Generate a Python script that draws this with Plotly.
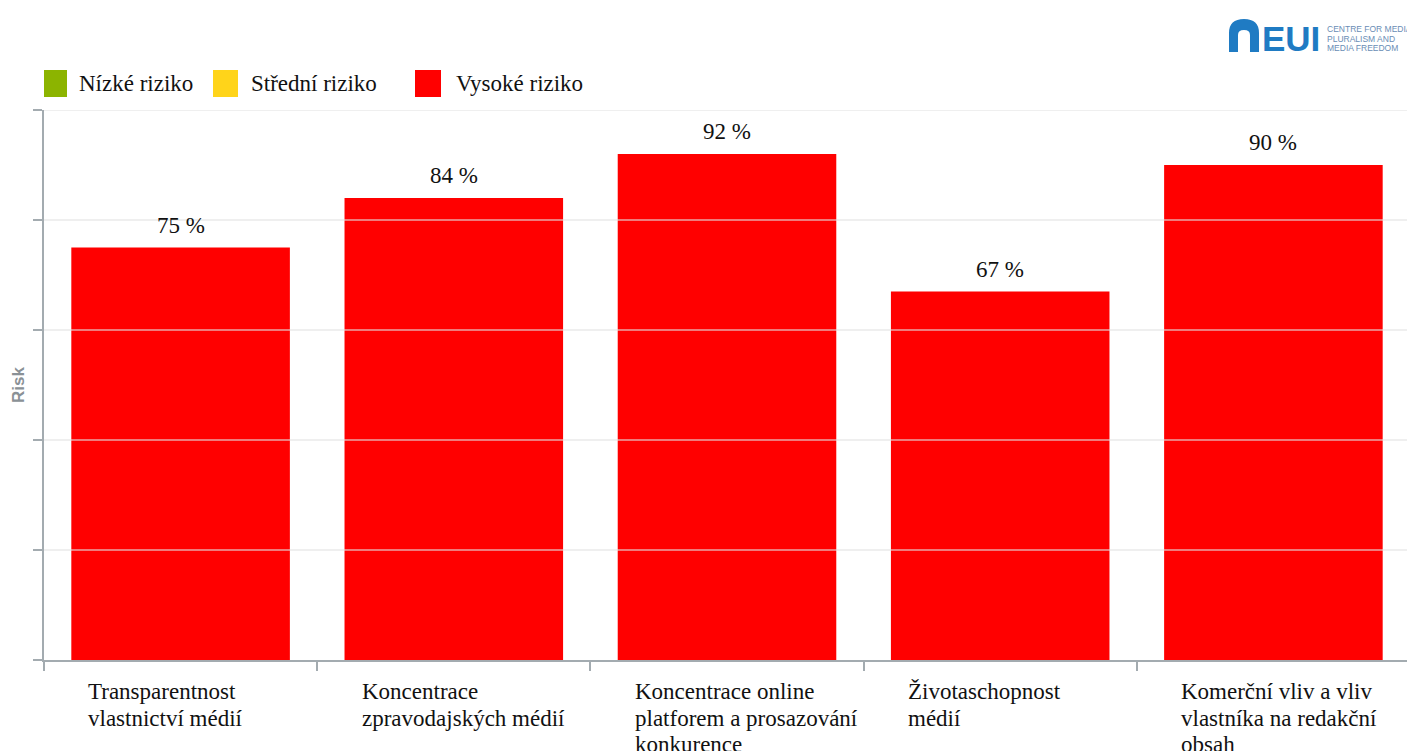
import plotly.graph_objects as go

categories = [
    "Transparentnost<br>vlastnictví médií",
    "Koncentrace<br>zpravodajských médií",
    "Koncentrace online<br>platforem a prosazování<br>konkurence",
    "Životaschopnost<br>médií",
    "Komerční vliv a vliv<br>vlastníka na redakční<br>obsah",
]
risk_values = [75, 84, 92, 67, 90]
y_ticks = [0, 20, 40, 60, 80, 100]
legend_labels = ["Nízké riziko", "Střední riziko", "Vysoké riziko"]
legend_colors = ["#8cb400", "#ffd41a", "#ff0000"]

W, H = 1407, 751
ML, MR, MT, MB = 44, 0, 110, 91
PW, PH = W - ML - MR, H - MT - MB

def px(x):
    return (x - ML) / PW

def py(y):
    return (H - MB - y) / PH

serif = "Liberation Serif, Times New Roman, serif"
cat_ids = list(range(len(categories)))

fig = go.Figure()
fig.add_trace(go.Bar(
    x=cat_ids, y=risk_values, marker_color=legend_colors[2],
    marker_line_width=0, width=0.8, showlegend=False, hoverinfo="y",
))

# gridlines drawn above bars (semi-transparent)
for t in y_ticks[1:]:
    fig.add_shape(type="line", xref="paper", yref="y", x0=0, x1=1, y0=t, y1=t,
                  line=dict(color="rgba(225,225,225,0.55)", width=2), layer="above")

# value labels
for i, v in zip(cat_ids, risk_values):
    fig.add_annotation(x=i, y=v, xref="x", yref="y", text=f"{v} %", showarrow=False,
                       yanchor="bottom", yshift=8, font=dict(family=serif, size=23, color="#111"))

# category labels (left aligned lines, tight line spacing)
for i, c in zip(cat_ids, categories):
    for k, line in enumerate(c.split("<br>")):
        fig.add_annotation(x=i - 0.345, y=0, xref="x", yref="y", text=line, showarrow=False,
                           yanchor="top", xanchor="left", yshift=-17 - 26.5 * k,
                           font=dict(family=serif, size=23, color="#111"))

# legend (manual)
leg_sq = [(44, 67), (213, 238), (415, 441)]
leg_tx = [77, 249, 454]
for (x0, x1), tx, lab, col in zip(leg_sq, leg_tx, legend_labels, legend_colors):
    fig.add_shape(type="rect", xref="paper", yref="paper", x0=px(x0), x1=px(x1),
                  y0=py(97), y1=py(70), fillcolor=col, line_width=0)
    fig.add_annotation(x=px(tx), y=py(84), xref="paper", yref="paper", text=lab,
                       showarrow=False, xanchor="left", yanchor="middle",
                       font=dict(family=serif, size=23, color="#111"))

# logo
blue = "#1f7bc3"
def P(x, y):
    return f"{px(x):.5f},{py(y):.5f}"
arch = (f"M {P(1229,52)} L {P(1229,33)} Q {P(1229,19)} {P(1244,19)} Q {P(1259,19)} {P(1259,33)} "
        f"L {P(1259,52)} L {P(1250,52)} L {P(1250,35)} Q {P(1250,30)} {P(1244,30)} "
        f"Q {P(1238,30)} {P(1238,35)} L {P(1238,52)} Z")
fig.add_shape(type="path", xref="paper", yref="paper", path=arch, fillcolor=blue, line_width=0)
fig.add_annotation(x=px(1260), y=py(38), xref="paper", yref="paper", text="<b>EUI</b>",
                   showarrow=False, xanchor="left", yanchor="middle",
                   font=dict(family="Liberation Sans, Arial, sans-serif", size=35, color=blue))
for k, line in enumerate(["CENTRE FOR MEDIA", "PLURALISM AND", "MEDIA FREEDOM"]):
    fig.add_annotation(x=px(1325), y=py(29 + 9.5 * k), xref="paper", yref="paper",
                       text=line, showarrow=False, xanchor="left", yanchor="middle",
                       font=dict(family="Liberation Sans, Arial, sans-serif", size=8.5, color="#6a8db5"))

axis_col = "#a3abb0"
fig.update_layout(
    width=W, height=H,
    margin=dict(l=ML, r=MR, t=MT, b=MB, autoexpand=False),
    paper_bgcolor="white", plot_bgcolor="white",
    xaxis=dict(type="linear", range=[-0.5, 4.489], showgrid=False, zeroline=False,
               showline=True, linecolor=axis_col, linewidth=2, automargin=False,
               tickvals=[-0.5, 0.5, 1.5, 2.5, 3.5, 4.5], ticks="outside", ticklen=9,
               tickcolor=axis_col, tickwidth=2, showticklabels=False),
    yaxis=dict(range=[0, 100], tickvals=y_ticks, showgrid=False, zeroline=False,
               showline=True, linecolor=axis_col, linewidth=2, automargin=False,
               ticks="outside", ticklen=9, tickcolor=axis_col, tickwidth=2,
               showticklabels=False,
               title=dict(text="<b>Risk</b>", standoff=4,
                          font=dict(family="Liberation Sans, Arial, sans-serif", size=17, color="#8a9196"))),
    showlegend=False,
)

fig.write_html("out.html", config={"displayModeBar": False},
               post_script="document.body.style.margin='0';document.body.style.overflow='hidden';")
